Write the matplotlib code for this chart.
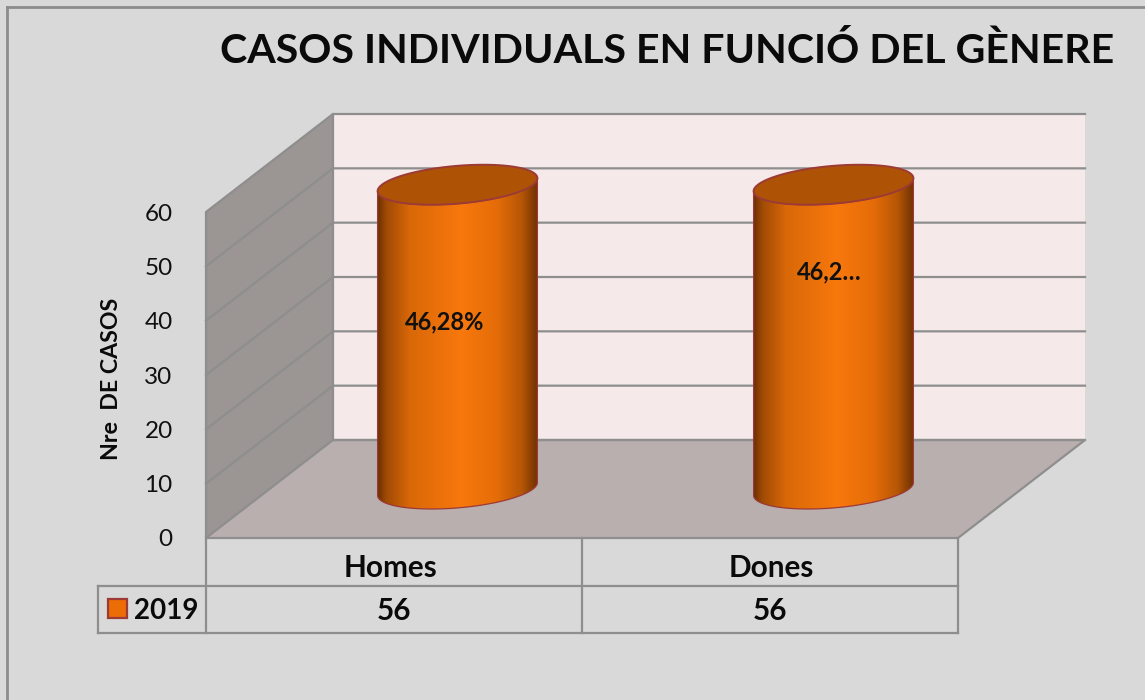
import numpy as np
import matplotlib
matplotlib.use('Agg')
import matplotlib.pyplot as plt
from matplotlib.colors import LinearSegmentedColormap
from matplotlib.patches import PathPatch, Rectangle
from matplotlib.path import Path

plt.rcParams['font.family'] = ['Lato', 'DejaVu Sans']

categories = ['Homes', 'Dones']
values = [56, 56]
point_labels = ['46,28%', '46,2…']
series_name = '2019'
title = 'CASOS INDIVIDUALS EN FUNCIÓ DEL GÈNERE'
y_label = 'Nre  DE CASOS'
y_ticks = [0, 10, 20, 30, 40, 50, 60]

W, H = 1145, 700
BG = '#d9d9d9'
GRID = '#8e8e8e'
EDGE = '#9c3a35'

fig = plt.figure(figsize=(W / 100, H / 100), dpi=100, facecolor=BG)

# pixel overlay for frame and data table
chrome = fig.add_axes([0, 0, 1, 1], zorder=3)
chrome.set_xlim(0, W)
chrome.set_ylim(H, 0)
chrome.axis('off')
chrome.patch.set_alpha(0)

# front plane of the chart: categories along x, cases along y
left, right, base, top = 206, 958, 538, 212
ax = fig.add_axes([left / W, 1 - base / H, (right - left) / W, (base - top) / H])
ax.set_xlim(0, len(categories))
ax.set_ylim(0, 60)
ax.patch.set_alpha(0)
for s in ax.spines.values():
    s.set_visible(False)
ax.set_xticks([])
ax.set_yticks(y_ticks)
ax.tick_params(axis='y', length=0, pad=24, labelsize=17.5, labelcolor='#111111')

# depth of the oblique projection, in data units
per_x = (right - left) / len(categories)
per_y = (base - top) / 60
dx = 127 / per_x
dy = 98 / per_y
ymax = y_ticks[-1]
xmax = len(categories)

# back wall, floor, side wall
ax.fill([dx, xmax + dx, xmax + dx, dx], [dy, dy, ymax + dy, ymax + dy],
        color='#f5e9e9', lw=0, clip_on=False, zorder=1)
ax.fill([0, xmax, xmax + dx, dx], [0, 0, dy, dy], color='#b9afaf', lw=0, clip_on=False, zorder=2)
ax.plot([dx, xmax + dx, xmax, 0, dx], [dy, dy, 0, 0, dy], color=GRID, lw=1.6, clip_on=False, zorder=3)
ax.fill([0, dx, dx, 0], [0, dy, ymax + dy, ymax], color='#9b9593', lw=0, clip_on=False, zorder=2)
ax.plot([0, 0, dx, dx, xmax + dx], [0, ymax, ymax + dy, dy, dy], color=GRID, lw=1.6, clip_on=False, zorder=3)
ax.plot([dx, xmax + dx], [ymax + dy, ymax + dy], color=GRID, lw=1.6, clip_on=False, zorder=3)
for t in y_ticks[1:-1]:
    ax.plot([0, dx, xmax + dx], [t, t + dy, t + dy], color=GRID, lw=1.6, clip_on=False, zorder=3)

cmap = LinearSegmentedColormap.from_list('cyl', [
    (0.0, '#6f3002'), (0.05, '#a04a05'), (0.2, '#d96808'), (0.52, '#f8780c'),
    (0.75, '#e46c08'), (0.9, '#b55606'), (1.0, '#6f3002')])

r = 0.201
s = 0.204
theta = np.linspace(0, 2 * np.pi, 181)


def ring(cx, cy, t):
    return cx + r * np.cos(t) + s * dx * np.sin(t), cy + s * dy * np.sin(t)


# silhouette angle of the sheared circle
t0 = np.arctan2(s * dx, r)
for i, v in enumerate(values):
    cx = i + 0.5 + dx / 2
    cy = dy / 2
    # lower half of the ring, from right extreme round to left extreme
    lower = np.linspace(t0, t0 - np.pi, 90)
    bx, by = ring(cx, cy, lower)
    tx, ty = ring(cx, cy + v, lower[::-1])
    verts = np.column_stack([np.r_[bx, tx], np.r_[by, ty]])
    body = Path(np.vstack([verts, verts[0]]), closed=True)
    ext = [bx.min(), bx.max(), by.min(), ty.max()]
    im = ax.imshow(np.linspace(0, 1, 256)[None, :], cmap=cmap, extent=ext, aspect='auto', zorder=5)
    patch = PathPatch(body, transform=ax.transData, fc='none', ec=EDGE, lw=0.9, zorder=6, clip_on=False)
    ax.add_patch(patch)
    im.set_clip_box(fig.bbox)
    im.set_clip_path(patch)
    ex, ey = ring(cx, cy + v, theta)
    ax.fill(ex, ey, fc='#ae5305', ec=EDGE, lw=1.4, zorder=7, clip_on=False)

ax.set_xlim(0, xmax)
ax.set_ylim(0, ymax)
ax.text(0.5 + dx / 2 - 13 / per_x, 39.7, point_labels[0], ha='center', va='center', fontsize=17, fontweight='bold',
        color='#111111', zorder=8)
ax.text(1.5 + dx / 2 - 4 / per_x, 48.9, point_labels[1], ha='center', va='center', fontsize=17, fontweight='bold',
        color='#111111', zorder=8)

# outer frame
frame = dict(color='#8c8c8c', lw=2, solid_capstyle='projecting')
chrome.plot([7, 7], [H, 7], **frame)
chrome.plot([7, W], [7, 7], **frame)

chrome.text(667.5, 51, title, ha='center', va='center', fontsize=29.6, fontweight='bold', color='#0a0a0a')
chrome.text(112, 379, y_label, rotation=90, ha='center', va='center', fontsize=16.7, fontweight='bold', color='#0a0a0a')

# data table
row1, row2, row3 = 538, 586, 633
mid = (left + right) / 2
tbl = dict(color='#8e8e8e', lw=1.6, solid_capstyle='projecting')
chrome.plot([left, left], [row1, row3], **tbl)
chrome.plot([mid, mid], [row1, row3], **tbl)
chrome.plot([right, right], [row1, row3], **tbl)
chrome.plot([98, right], [row2, row2], **tbl)
chrome.plot([98, right], [row3, row3], **tbl)
chrome.plot([98, 98], [row2, row3], **tbl)
chrome.add_patch(Rectangle((108, 599), 19, 19, fc='#ec6c05', ec=EDGE, lw=1.6))
chrome.text(166, 611, series_name, ha='center', va='center', fontsize=20, fontweight='bold', color='#0a0a0a')
name_x = [391, 771]
value_x = [394.5, 770.5]
for i, (c, v) in enumerate(zip(categories, values)):
    chrome.text(name_x[i], 568, c, ha='center', va='center', fontsize=21.4, fontweight='bold', color='#0a0a0a')
    chrome.text(value_x[i], 611, str(v), ha='center', va='center', fontsize=21.4, fontweight='bold', color='#0a0a0a')

fig.savefig('out.png', dpi=100, facecolor=BG)
